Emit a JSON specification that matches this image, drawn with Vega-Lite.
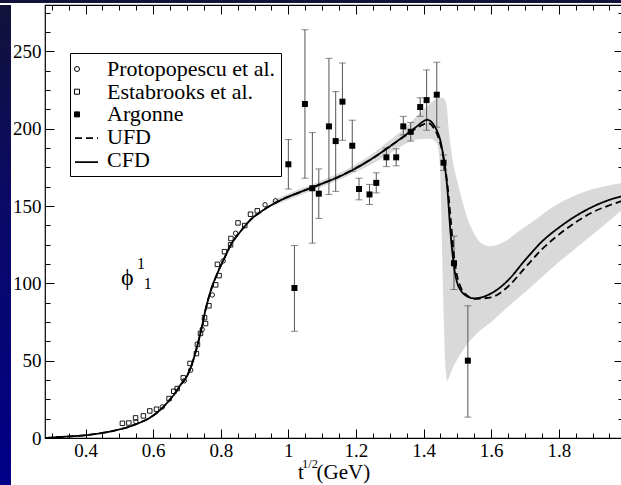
{
  "$schema": "https://vega.github.io/schema/vega-lite/v6.json",
  "background": "white",
  "padding": 0,
  "spacing": 0,
  "config": {
    "font": "Liberation Serif",
    "view": {"stroke": null},
    "concat": {"spacing": 0},
    "axis": {"grid": false, "domain": false, "tickColor": "black", "tickWidth": 1, "labelColor": "black", "titleColor": "black", "titleFontWeight": "normal", "labelFlush": false, "labelOverlap": false, "labelBound": false, "labelFont": "Liberation Serif", "titleFont": "Liberation Serif"},
    "legend": {"labelFont": "Liberation Serif", "labelColor": "black"}
  },
  "datasets": {
    "curves": [
      {"x":0.28,"y":0,"series":"CFD"},{"x":0.3,"y":0.3,"series":"CFD"},{"x":0.35,"y":1.0,"series":"CFD"},{"x":0.4,"y":1.8,"series":"CFD"},{"x":0.45,"y":3.3,"series":"CFD"},{"x":0.5,"y":5.5,"series":"CFD"},{"x":0.55,"y":9,"series":"CFD"},{"x":0.6,"y":14.5,"series":"CFD"},{"x":0.625,"y":19,"series":"CFD"},{"x":0.65,"y":25,"series":"CFD"},{"x":0.665,"y":29,"series":"CFD"},{"x":0.68,"y":34,"series":"CFD"},{"x":0.7,"y":40,"series":"CFD"},{"x":0.712,"y":46,"series":"CFD"},{"x":0.726,"y":56,"series":"CFD"},{"x":0.74,"y":68,"series":"CFD"},{"x":0.755,"y":83,"series":"CFD"},{"x":0.77,"y":95,"series":"CFD"},{"x":0.79,"y":106.5,"series":"CFD"},{"x":0.81,"y":116,"series":"CFD"},{"x":0.83,"y":125,"series":"CFD"},{"x":0.86,"y":134,"series":"CFD"},{"x":0.89,"y":141.5,"series":"CFD"},{"x":0.92,"y":146.5,"series":"CFD"},{"x":0.97,"y":153,"series":"CFD"},{"x":1.0,"y":156,"series":"CFD"},{"x":1.05,"y":160.3,"series":"CFD"},{"x":1.1,"y":164.5,"series":"CFD"},{"x":1.15,"y":169,"series":"CFD"},{"x":1.2,"y":174.5,"series":"CFD"},{"x":1.25,"y":181,"series":"CFD"},{"x":1.3,"y":188.5,"series":"CFD"},{"x":1.35,"y":196.5,"series":"CFD"},{"x":1.38,"y":201.5,"series":"CFD"},{"x":1.4,"y":204.8,"series":"CFD"},{"x":1.41,"y":205.8,"series":"CFD"},{"x":1.42,"y":205,"series":"CFD"},{"x":1.43,"y":202.5,"series":"CFD"},{"x":1.44,"y":198.5,"series":"CFD"},{"x":1.45,"y":192,"series":"CFD"},{"x":1.46,"y":180,"series":"CFD"},{"x":1.47,"y":162,"series":"CFD"},{"x":1.48,"y":132,"series":"CFD"},{"x":1.49,"y":111,"series":"CFD"},{"x":1.5,"y":100,"series":"CFD"},{"x":1.51,"y":95.5,"series":"CFD"},{"x":1.53,"y":91.5,"series":"CFD"},{"x":1.55,"y":90.3,"series":"CFD"},{"x":1.6,"y":93.5,"series":"CFD"},{"x":1.65,"y":102,"series":"CFD"},{"x":1.7,"y":115,"series":"CFD"},{"x":1.75,"y":127,"series":"CFD"},{"x":1.8,"y":136,"series":"CFD"},{"x":1.85,"y":143.5,"series":"CFD"},{"x":1.9,"y":149.5,"series":"CFD"},{"x":1.95,"y":154,"series":"CFD"},{"x":1.99,"y":156.5,"series":"CFD"},
      {"x":0.28,"y":0,"series":"UFD"},{"x":0.3,"y":0.3,"series":"UFD"},{"x":0.35,"y":1.0,"series":"UFD"},{"x":0.4,"y":1.8,"series":"UFD"},{"x":0.45,"y":3.3,"series":"UFD"},{"x":0.5,"y":5.5,"series":"UFD"},{"x":0.55,"y":9,"series":"UFD"},{"x":0.6,"y":14.5,"series":"UFD"},{"x":0.625,"y":19,"series":"UFD"},{"x":0.65,"y":25,"series":"UFD"},{"x":0.665,"y":29,"series":"UFD"},{"x":0.68,"y":34,"series":"UFD"},{"x":0.7,"y":40,"series":"UFD"},{"x":0.712,"y":46,"series":"UFD"},{"x":0.726,"y":56,"series":"UFD"},{"x":0.74,"y":68,"series":"UFD"},{"x":0.755,"y":83,"series":"UFD"},{"x":0.77,"y":95,"series":"UFD"},{"x":0.79,"y":106.5,"series":"UFD"},{"x":0.81,"y":116,"series":"UFD"},{"x":0.83,"y":125,"series":"UFD"},{"x":0.86,"y":134,"series":"UFD"},{"x":0.89,"y":141.5,"series":"UFD"},{"x":0.92,"y":146.5,"series":"UFD"},{"x":0.97,"y":153,"series":"UFD"},{"x":1.0,"y":156,"series":"UFD"},{"x":1.05,"y":160.3,"series":"UFD"},{"x":1.1,"y":164.5,"series":"UFD"},{"x":1.15,"y":169,"series":"UFD"},{"x":1.2,"y":174.5,"series":"UFD"},{"x":1.25,"y":181,"series":"UFD"},{"x":1.3,"y":188.5,"series":"UFD"},{"x":1.35,"y":196,"series":"UFD"},{"x":1.38,"y":200.5,"series":"UFD"},{"x":1.4,"y":202.8,"series":"UFD"},{"x":1.41,"y":203.6,"series":"UFD"},{"x":1.42,"y":203,"series":"UFD"},{"x":1.43,"y":200.5,"series":"UFD"},{"x":1.44,"y":196.5,"series":"UFD"},{"x":1.45,"y":190,"series":"UFD"},{"x":1.46,"y":180,"series":"UFD"},{"x":1.47,"y":165,"series":"UFD"},{"x":1.48,"y":142,"series":"UFD"},{"x":1.49,"y":118,"series":"UFD"},{"x":1.5,"y":104,"series":"UFD"},{"x":1.51,"y":97.5,"series":"UFD"},{"x":1.53,"y":92,"series":"UFD"},{"x":1.55,"y":90,"series":"UFD"},{"x":1.6,"y":91,"series":"UFD"},{"x":1.65,"y":98,"series":"UFD"},{"x":1.7,"y":110,"series":"UFD"},{"x":1.75,"y":122,"series":"UFD"},{"x":1.8,"y":131.5,"series":"UFD"},{"x":1.85,"y":139.5,"series":"UFD"},{"x":1.9,"y":146,"series":"UFD"},{"x":1.95,"y":150.5,"series":"UFD"},{"x":1.99,"y":153.5,"series":"UFD"}
    ],
    "band": [
      {"x":0.95,"lo":149.5,"hi":153},{"x":1.0,"lo":154,"hi":158},{"x":1.1,"lo":162.5,"hi":166.5},{"x":1.2,"lo":172,"hi":177},{"x":1.25,"lo":177.5,"hi":184},{"x":1.3,"lo":184,"hi":192.5},{"x":1.34,"lo":189.5,"hi":199.5},{"x":1.38,"lo":193,"hi":208},{"x":1.42,"lo":193.5,"hi":216.5},{"x":1.44,"lo":190,"hi":219.5},{"x":1.448,"lo":178,"hi":220},{"x":1.452,"lo":150,"hi":220},{"x":1.456,"lo":110,"hi":220},{"x":1.46,"lo":75,"hi":219.5},{"x":1.465,"lo":45,"hi":218},{"x":1.47,"lo":37,"hi":212},{"x":1.475,"lo":39,"hi":198},{"x":1.48,"lo":42,"hi":189},{"x":1.49,"lo":47,"hi":175},{"x":1.5,"lo":51,"hi":166},{"x":1.51,"lo":54.5,"hi":157},{"x":1.53,"lo":61,"hi":142},{"x":1.55,"lo":66,"hi":132},{"x":1.57,"lo":70,"hi":126},{"x":1.6,"lo":75,"hi":124},{"x":1.64,"lo":83,"hi":127},{"x":1.68,"lo":90.5,"hi":133.5},{"x":1.73,"lo":100,"hi":141},{"x":1.78,"lo":110,"hi":149},{"x":1.83,"lo":119,"hi":155},{"x":1.88,"lo":128,"hi":159.5},{"x":1.93,"lo":137,"hi":162.5},{"x":1.99,"lo":148,"hi":165}
    ],
    "argonne": [
      {"x":1.000,"y":177,"lo":161,"hi":193},{"x":1.018,"y":97,"lo":69,"hi":124.5},{"x":1.049,"y":216,"lo":168,"hi":264},{"x":1.071,"y":161.5,"lo":126,"hi":197.5},{"x":1.090,"y":158,"lo":142,"hi":174},{"x":1.120,"y":201.5,"lo":157.5,"hi":245.5},{"x":1.140,"y":192,"lo":159.5,"hi":224},{"x":1.160,"y":217.5,"lo":192.5,"hi":242.5},{"x":1.189,"y":189,"lo":172.5,"hi":205.5},{"x":1.209,"y":161,"lo":154,"hi":168},{"x":1.240,"y":157.5,"lo":151,"hi":164},{"x":1.260,"y":165,"lo":158.5,"hi":171.5},{"x":1.290,"y":181.5,"lo":175.5,"hi":187.5},{"x":1.319,"y":181.5,"lo":176,"hi":187},{"x":1.340,"y":201.5,"lo":196,"hi":208},{"x":1.362,"y":198,"lo":192,"hi":204},{"x":1.390,"y":214,"lo":208,"hi":220},{"x":1.409,"y":218.5,"lo":199,"hi":238},{"x":1.439,"y":222,"lo":201,"hi":243},{"x":1.459,"y":178,"lo":173,"hi":183},{"x":1.490,"y":113,"lo":96,"hi":130.5},{"x":1.531,"y":50,"lo":13.5,"hi":85.5}
    ],
    "pts": [
      {"x":0.509,"y":9.5,"series":"Estabrooks et al."},{"x":0.528,"y":9.7,"series":"Estabrooks et al."},{"x":0.548,"y":13,"series":"Estabrooks et al."},{"x":0.549,"y":10.5,"series":"Protopopescu et al."},{"x":0.571,"y":14.3,"series":"Estabrooks et al."},{"x":0.590,"y":17.5,"series":"Estabrooks et al."},{"x":0.610,"y":18.6,"series":"Estabrooks et al."},{"x":0.627,"y":20.1,"series":"Protopopescu et al."},{"x":0.647,"y":25.5,"series":"Estabrooks et al."},{"x":0.661,"y":30.2,"series":"Estabrooks et al."},{"x":0.671,"y":32,"series":"Estabrooks et al."},{"x":0.689,"y":38.9,"series":"Estabrooks et al."},{"x":0.692,"y":37,"series":"Protopopescu et al."},{"x":0.709,"y":48.2,"series":"Estabrooks et al."},{"x":0.711,"y":43.9,"series":"Protopopescu et al."},{"x":0.728,"y":54.6,"series":"Estabrooks et al."},{"x":0.731,"y":60.5,"series":"Estabrooks et al."},{"x":0.740,"y":67.6,"series":"Estabrooks et al."},{"x":0.745,"y":70.2,"series":"Protopopescu et al."},{"x":0.752,"y":77.8,"series":"Estabrooks et al."},{"x":0.755,"y":74,"series":"Estabrooks et al."},{"x":0.765,"y":85.5,"series":"Estabrooks et al."},{"x":0.775,"y":92.5,"series":"Protopopescu et al."},{"x":0.785,"y":99,"series":"Estabrooks et al."},{"x":0.790,"y":112.3,"series":"Estabrooks et al."},{"x":0.795,"y":105,"series":"Estabrooks et al."},{"x":0.807,"y":114.5,"series":"Protopopescu et al."},{"x":0.811,"y":120.5,"series":"Estabrooks et al."},{"x":0.829,"y":124.9,"series":"Estabrooks et al."},{"x":0.830,"y":129,"series":"Estabrooks et al."},{"x":0.844,"y":132.4,"series":"Protopopescu et al."},{"x":0.851,"y":139.1,"series":"Estabrooks et al."},{"x":0.871,"y":137.4,"series":"Estabrooks et al."},{"x":0.888,"y":144.7,"series":"Estabrooks et al."},{"x":0.908,"y":146.9,"series":"Estabrooks et al."},{"x":0.931,"y":150.8,"series":"Protopopescu et al."},{"x":0.962,"y":153.4,"series":"Protopopescu et al."}
    ]
  },
  "vconcat": [
    {
      "data": {"values": [{}]},
      "width": 621, "height": 3,
      "mark": {"type": "rect", "fill": "#12123a"},
      "encoding": {}
    },
    {
      "hconcat": [
        {
          "data": {"values": [{}]},
          "width": 11, "height": 483,
          "mark": {"type": "rect", "fill": {"gradient": "linear", "x1": 0, "y1": 0, "x2": 0, "y2": 1, "stops": [{"offset": 0, "color": "#12123a"}, {"offset": 0.4, "color": "#0a0a66"}, {"offset": 1, "color": "#000088"}]}},
          "encoding": {}
        },
        {
          "width": 578, "height": 433,
          "view": {"stroke": "black", "strokeWidth": 1.2, "fill": "white"},
          "resolve": {"axis": {"x": "independent", "y": "independent"}},
          "layer": [
            {
              "data": {"name": "band"},
              "mark": {"type": "area", "color": "#d9d9d9", "interpolate": "monotone", "clip": true},
              "encoding": {
                "x": {"field": "x", "type": "quantitative", "scale": {"domain": [0.28, 1.99], "nice": false, "zero": false},
                      "axis": {"orient": "bottom", "values": [0.4,0.6,0.8,1,1.2,1.4,1.6,1.8], "ticks": false, "labelFontSize": 19, "labelPadding": 3, "format": "~g", "title": "(GeV)", "titleX": 271, "titleY": 40, "titleAlign": "left", "titleBaseline": "alphabetic", "titleFontSize": 21}},
                "y": {"field": "lo", "type": "quantitative", "scale": {"domain": [0, 280], "nice": false, "zero": false},
                      "axis": {"orient": "left", "values": [0,50,100,150,200,250], "ticks": false, "labelFontSize": 19, "labelPadding": 4, "format": "d", "title": null, "minExtent": 33, "maxExtent": 33}},
                "y2": {"field": "hi"}
              }
            },
            {
              "data": {"name": "argonne"},
              "mark": {"type": "rule", "color": "#555555", "strokeWidth": 1},
              "encoding": {
                "x": {"field": "x", "type": "quantitative", "scale": {"domain": [0.28, 1.99], "nice": false, "zero": false},
                      "axis": {"orient": "bottom", "values": [0.4,0.6,0.8,1,1.2,1.4,1.6,1.8], "tickSize": -9, "labels": false, "title": "t", "titleX": 255.5, "titleY": 40, "titleAlign": "center", "titleBaseline": "alphabetic", "titleFontSize": 21, "minExtent": 0}},
                "y": {"field": "lo", "type": "quantitative", "scale": {"domain": [0, 280], "nice": false, "zero": false},
                      "axis": {"orient": "left", "values": [0,50,100,150,200,250], "tickSize": -9, "labels": false, "title": null, "minExtent": 0}},
                "y2": {"field": "hi"}
              }
            },
            {
              "data": {"name": "argonne"},
              "transform": [{"fold": ["lo", "hi"], "as": ["k", "v"]}],
              "mark": {"type": "tick", "orient": "horizontal", "size": 7, "thickness": 1, "color": "#555555"},
              "encoding": {
                "x": {"field": "x", "type": "quantitative", "scale": {"domain": [0.28, 1.99], "nice": false, "zero": false},
                      "axis": {"orient": "bottom", "values": [0.3,0.35,0.45,0.5,0.55,0.65,0.7,0.75,0.85,0.9,0.95,1.05,1.1,1.15,1.25,1.3,1.35,1.45,1.5,1.55,1.65,1.7,1.75,1.85,1.9,1.95], "tickSize": -5, "labels": false, "title": "1/2", "titleX": 264.5, "titleY": 29, "titleAlign": "center", "titleBaseline": "alphabetic", "titleFontSize": 12.5, "minExtent": 0}},
                "y": {"field": "v", "type": "quantitative", "scale": {"domain": [0, 280], "nice": false, "zero": false},
                      "axis": {"orient": "left", "values": [12.5,25,37.5,62.5,75,87.5,112.5,125,137.5,162.5,175,187.5,212.5,225,237.5,262.5,275], "tickSize": -5, "labels": false, "title": null, "minExtent": 0}}
              }
            },
            {
              "data": {"name": "pts"},
              "mark": {"type": "point", "strokeWidth": 0.9, "size": 20, "opacity": 1},
              "encoding": {
                "x": {"field": "x", "type": "quantitative", "scale": {"domain": [0.28, 1.99], "nice": false, "zero": false},
                      "axis": {"orient": "top", "values": [0.3,0.35,0.45,0.5,0.55,0.65,0.7,0.75,0.85,0.9,0.95,1.05,1.1,1.15,1.25,1.3,1.35,1.45,1.5,1.55,1.65,1.7,1.75,1.85,1.9,1.95], "tickSize": -5, "labels": false, "title": null, "minExtent": 0}},
                "y": {"field": "y", "type": "quantitative", "scale": {"domain": [0, 280], "nice": false, "zero": false},
                      "axis": {"orient": "right", "values": [12.5,25,37.5,62.5,75,87.5,112.5,125,137.5,162.5,175,187.5,212.5,225,237.5,262.5,275], "tickSize": -5, "labels": false, "title": null, "minExtent": 0}},
                "shape": {"field": "series", "type": "nominal",
                  "scale": {"domain": ["Protopopescu et al.", "Estabrooks et al.", "Argonne", "UFD", "CFD"], "range": ["circle", "square", "square", "circle", "circle"]},
                  "legend": {"orient": "none", "legendX": 70, "legendY": 53, "title": null, "strokeColor": "black", "padding": 5, "labelFontSize": 22, "labelOffset": 19, "labelLimit": 400, "symbolSize": 25, "symbolStrokeWidth": 1, "symbolOffset": -9, "rowPadding": 0.7}},
                "fill": {"field": "series", "type": "nominal",
                  "scale": {"domain": ["Protopopescu et al.", "Estabrooks et al.", "Argonne", "UFD", "CFD"], "range": ["transparent", "transparent", "black", "transparent", "transparent"]},
                  "legend": {"orient": "none", "legendX": 70, "legendY": 53, "title": null, "strokeColor": "black", "padding": 5, "labelFontSize": 22, "labelOffset": 19, "labelLimit": 400, "symbolSize": 25, "symbolStrokeWidth": 1, "symbolOffset": -9, "rowPadding": 0.7}},
                "stroke": {"field": "series", "type": "nominal",
                  "scale": {"domain": ["Protopopescu et al.", "Estabrooks et al.", "Argonne", "UFD", "CFD"], "range": ["black", "black", "black", "transparent", "transparent"]},
                  "legend": {"orient": "none", "legendX": 70, "legendY": 53, "title": null, "strokeColor": "black", "padding": 5, "labelFontSize": 22, "labelOffset": 19, "labelLimit": 400, "symbolSize": 25, "symbolStrokeWidth": 1, "symbolOffset": -9, "rowPadding": 0.7}}
              }
            },
            {
              "data": {"name": "curves"},
              "mark": {"type": "line", "color": "black", "strokeWidth": 1.8, "interpolate": "monotone", "clip": true},
              "encoding": {
                "x": {"field": "x", "type": "quantitative", "scale": {"domain": [0.28, 1.99], "nice": false, "zero": false},
                      "axis": {"orient": "top", "values": [0.4,0.6,0.8,1,1.2,1.4,1.6,1.8], "tickSize": -9, "labels": false, "title": null, "minExtent": 0}},
                "y": {"field": "y", "type": "quantitative", "scale": {"domain": [0, 280], "nice": false, "zero": false},
                      "axis": {"orient": "right", "values": [0,50,100,150,200,250], "tickSize": -9, "labels": false, "title": null, "minExtent": 0}},
                "strokeDash": {
                  "field": "series", "type": "nominal",
                  "scale": {"domain": ["UFD", "CFD"], "range": [[7,4],[1,0]]},
                  "legend": {"orient": "none", "legendX": 74, "legendY": 125.6, "title": null, "padding": 0, "labelFontSize": 22, "labelOffset": 2, "labelExpr": "' '", "symbolSize": 529, "symbolType": "stroke", "symbolStrokeColor": "black", "symbolStrokeWidth": 1.7, "rowPadding": 0}
                }
              }
            },
            {
              "data": {"name": "argonne"},
              "mark": {"type": "square", "filled": true, "color": "black", "size": 36, "opacity": 1},
              "encoding": {
                "x": {"field": "x", "type": "quantitative", "scale": {"domain": [0.28, 1.99], "nice": false, "zero": false}, "axis": null},
                "y": {"field": "y", "type": "quantitative", "scale": {"domain": [0, 280], "nice": false, "zero": false}, "axis": null}
              }
            },
            {
              "data": {"values": [{}]},
              "mark": {"type": "text", "text": "ϕ", "fontSize": 24, "font": "Liberation Serif", "align": "center", "baseline": "middle", "color": "black"},
              "encoding": {
                "x": {"datum": 0.5234, "type": "quantitative", "scale": {"domain": [0.28, 1.99], "nice": false, "zero": false}, "axis": null},
                "y": {"datum": 103.6, "type": "quantitative", "scale": {"domain": [0, 280], "nice": false, "zero": false}, "axis": null}
              }
            },
            {
              "data": {"values": [{}]},
              "mark": {"type": "text", "text": "1", "fontSize": 16, "font": "Liberation Serif", "align": "center", "baseline": "middle", "color": "black"},
              "encoding": {
                "x": {"datum": 0.564, "type": "quantitative", "scale": {"domain": [0.28, 1.99], "nice": false, "zero": false}, "axis": null},
                "y": {"datum": 112.7, "type": "quantitative", "scale": {"domain": [0, 280], "nice": false, "zero": false}, "axis": null}
              }
            },
            {
              "data": {"values": [{}]},
              "mark": {"type": "text", "text": "1", "fontSize": 16, "font": "Liberation Serif", "align": "center", "baseline": "middle", "color": "black"},
              "encoding": {
                "x": {"datum": 0.584, "type": "quantitative", "scale": {"domain": [0.28, 1.99], "nice": false, "zero": false}, "axis": null},
                "y": {"datum": 99.3, "type": "quantitative", "scale": {"domain": [0, 280], "nice": false, "zero": false}, "axis": null}
              }
            }
          ]
        }
      ]
    }
  ]
}
